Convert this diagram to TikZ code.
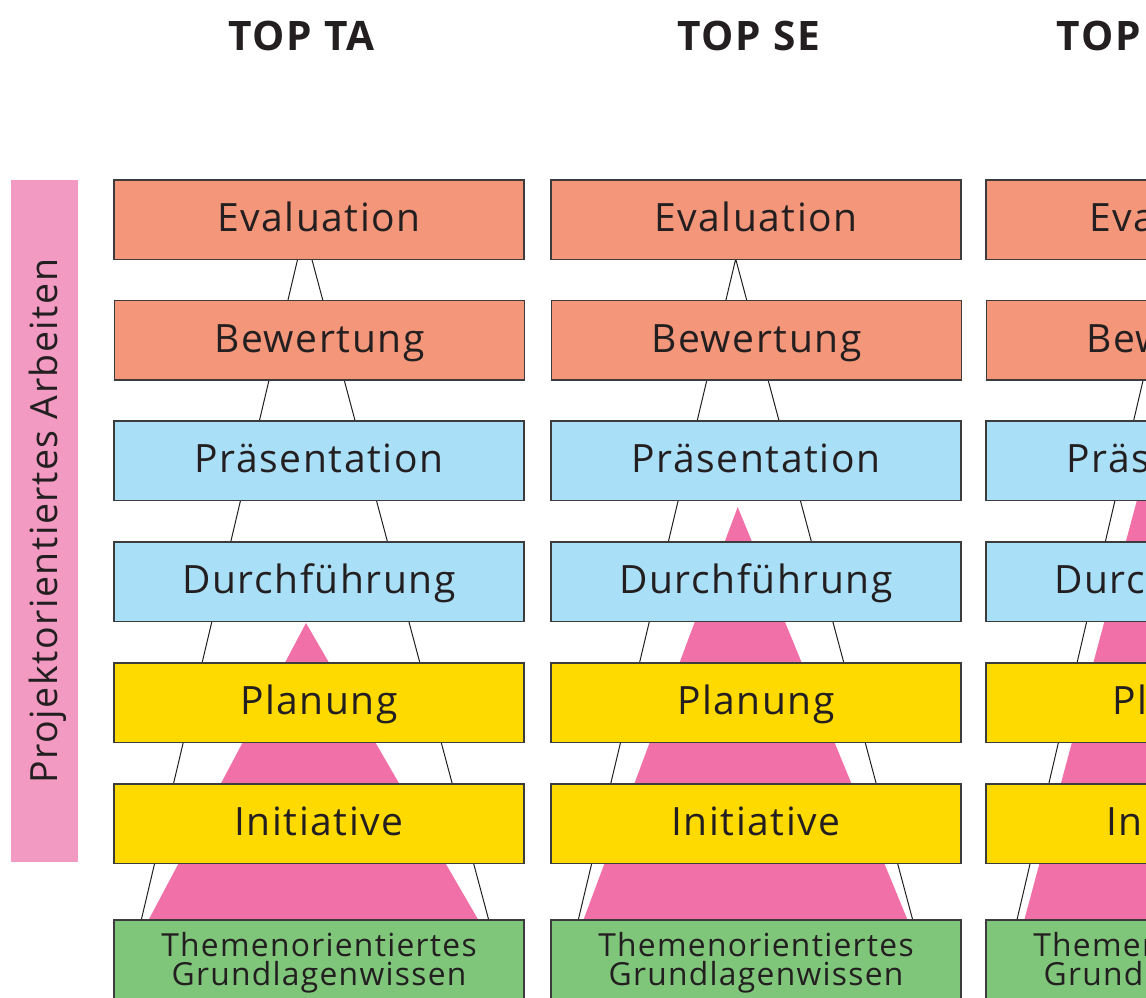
\documentclass[tikz,border=0pt]{standalone}
\usepackage{fontspec}
\setmainfont{Open Sans}[LetterSpace=4]
\definecolor{ink}{RGB}{35,31,32}
\definecolor{boxline}{RGB}{60,60,60}
\definecolor{salmon}{RGB}{243,150,121}
\definecolor{skyblue}{RGB}{170,223,248}
\definecolor{sun}{RGB}{254,218,0}
\definecolor{leaf}{RGB}{127,198,122}
\definecolor{pyramid}{RGB}{240,112,167}
\definecolor{sidebar}{RGB}{242,154,194}
\begin{document}
\begin{tikzpicture}[x=1pt,y=-1pt,
  stage/.style={draw=boxline, line width=1.2pt, rectangle, anchor=north west,
    minimum width=410pt, minimum height=79.5pt, inner sep=0pt, outer sep=0pt,
    text=ink, font=\fontsize{39}{39}\selectfont, text height=28pt, text depth=4pt},
  basetext/.style={text=ink, inner sep=0pt, anchor=base, font=\fontsize{31.8}{29}\selectfont},
  title/.style={text=ink, inner sep=0pt, anchor=base, font=\fontsize{40.6}{40.6}\selectfont\bfseries},
  frame/.style={draw=ink, line width=1pt},
  peak/.style={fill=pyramid, draw=none}]
\useasboundingbox (0,0) rectangle (1146,997);
\clip (0,0) rectangle (1146,997);

% column titles
\node[title] (ta) at (301.3,50.7) {TOP TA};
\node[title] (se) at (748.8,50.7) {TOP SE};
\node[title, anchor=base west] (third) at (1056.7,50.7) {TOP};

% vertical side label
\fill[sidebar] (11,180) rectangle (78,862);
\node[text=ink, inner sep=0pt, rotate=90, font=\fontsize{37.5}{37.5}\selectfont,
  text height=27pt, text depth=0pt] (side) at (43.5,521) {Projektorientiertes Arbeiten};

% columns: left edge / outline apex / outline base / pink apex / pink base
\foreach \c/\lx/\ax/\ay/\bl/\br/\px/\py/\ql/\qr in {
  1/114/304.3/231/141/489/306/623/148/479,
  2/551/735.7/259/578/913/737.7/507/583/908,
  3/986/1170/265/1016.7/1343/1167.6/386/1024/1349}{
  % outer triangle outline
  \coordinate (oa\c) at (\ax,\ay);
  \coordinate (ol\c) at (\bl,921);
  \coordinate (or\c) at (\br,921);
  \draw[frame] (ol\c) -- (oa\c) -- (or\c);
  % inner pink pyramid
  \coordinate (pa\c) at (\px,\py);
  \coordinate (pl\c) at (\ql,921);
  \coordinate (pr\c) at (\qr,921);
  \fill[peak] (pl\c) -- (pa\c) -- (pr\c) -- cycle;
  % stages
  \node[stage, fill=salmon] (eval\c) at (\lx,180) {Evaluation};
  \node[stage, fill=salmon] (bew\c) at (\lx+0.5,300.5) {Bewertung};
  \node[stage, fill=skyblue] (pres\c) at (\lx,421) {Präsentation};
  \node[stage, fill=skyblue] (durch\c) at (\lx,542) {Durchführung};
  \node[stage, fill=sun] (plan\c) at (\lx,663) {Planung};
  \node[stage, fill=sun] (init\c) at (\lx,784) {Initiative};
  \node[stage, fill=leaf, text height=0pt, text depth=0pt] (base\c) at (\lx,920) {};
  \node[basetext] (basea\c) at (\lx+205,956) {Themenorientiertes};
  \node[basetext] (baseb\c) at (\lx+205,985) {Grundlagenwissen};
}
\end{tikzpicture}
\end{document}
